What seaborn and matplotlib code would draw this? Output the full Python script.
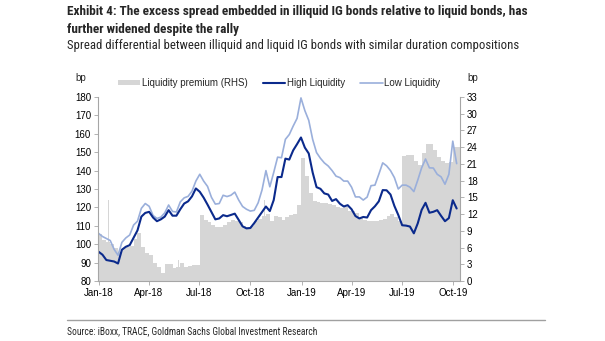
import matplotlib
matplotlib.use("Agg")
import matplotlib.pyplot as plt
import matplotlib.dates as mdates
from matplotlib import font_manager
from matplotlib.patches import Patch
from matplotlib.lines import Line2D
import numpy as np
import pandas as pd
import seaborn as sns

# ---------------- data (weekly, Mondays from 2018-01-01) ----------------
start_date = "2018-01-01"
n_weeks = 93

high_liquidity = [
    95.9, 94.3, 91.4, 91.0, 90.6, 89.5, 97.0, 98.6, 99.5, 103.5,
    107.5, 115.0, 117.0, 117.6, 114.5, 112.5, 113.5, 115.0, 118.5, 115.5,
    115.5, 119.0, 122.1, 123.3, 126.0, 130.3, 128.5, 125.3, 121.5, 117.5,
    113.5, 114.0, 115.8, 115.2, 115.9, 116.6, 113.2, 109.7, 108.6, 108.8,
    111.5, 114.5, 117.5, 120.5, 118.0, 124.0, 136.5, 136.5, 146.5, 146.0,
    151.0, 154.4, 158.0, 152.5, 149.3, 139.0, 131.0, 130.1, 127.6, 127.0,
    123.5, 124.5, 122.0, 120.5, 121.2, 119.0, 115.3, 114.0, 114.8, 114.5,
    118.5, 120.6, 123.3, 129.4, 129.3, 127.0, 120.8, 115.9, 110.3, 110.1,
    109.6, 105.9, 111.3, 118.6, 122.5, 117.1, 117.6, 118.5, 115.4, 112.5,
    114.2, 123.9, 119.4,
]

low_liquidity = [
    105.9, 104.2, 103.1, 102.0, 97.2, 94.0, 101.0, 103.4, 105.0, 110.4,
    112.5, 119.5, 122.1, 120.6, 115.6, 114.0, 114.7, 117.0, 121.3, 117.8,
    117.5, 123.0, 125.2, 126.0, 128.8, 134.3, 138.0, 134.3, 131.4, 125.5,
    121.8, 122.1, 126.6, 125.9, 126.6, 128.3, 124.0, 120.5, 119.0, 118.0,
    118.4, 122.5, 129.5, 140.0, 131.2, 139.0, 147.3, 147.0, 157.0, 159.6,
    164.2, 168.4, 179.5, 172.6, 167.3, 157.0, 149.8, 146.7, 144.2, 142.5,
    140.0, 137.0, 136.2, 134.3, 134.3, 131.0, 125.7, 125.7, 124.0, 125.6,
    131.8, 132.1, 138.0, 144.2, 142.6, 140.0, 136.2, 130.0, 132.1, 132.1,
    131.0, 128.6, 134.8, 141.5, 146.3, 141.5, 141.4, 138.0, 136.6, 132.6,
    138.0, 156.0, 143.8,
]

liquidity_premium = [
    8.5, 7.4, 7.0, 6.7, 6.0, 5.2, 6.0, 6.1, 6.2, 7.6,
    8.6, 6.1, 5.1, 4.6, 3.2, 2.6, 1.5, 3.1, 3.0, 2.3,
    2.6, 3.2, 2.5, 2.7, 2.9, 2.9, 11.8, 11.0, 10.5, 10.0,
    9.6, 9.6, 10.1, 10.5, 10.9, 10.7, 10.5, 9.9, 9.7, 9.9,
    10.7, 11.2, 11.6, 12.0, 10.8, 11.7, 11.4, 11.0, 11.4, 11.8,
    12.0, 13.6, 22.0, 18.8, 15.8, 14.4, 14.1, 13.9, 13.9, 13.8,
    13.6, 13.2, 13.1, 13.2, 12.5, 12.5, 12.2, 11.5, 10.9, 10.7,
    10.7, 10.8, 11.0, 11.2, 11.7, 12.0, 11.5, 10.7, 22.4, 22.6,
    22.6, 21.5, 20.8, 23.0, 24.6, 24.6, 23.5, 22.3, 21.6, 21.1,
    21.4, 24.0, 24.0,
]

# single-day spikes in the premium series
spike_dates = ["2018-01-19", "2018-05-25", "2018-10-26", "2018-12-31", "2019-09-27"]
spike_values = [14.5, 3.8, 14.5, 22.9, 32.8]

title_line1 = "Exhibit 4: The excess spread embedded in illiquid IG bonds relative to liquid bonds, has"
title_line2 = "further widened despite the rally"
subtitle = "Spread differential between illiquid and liquid IG bonds with similar duration compositions"
source = "Source: iBoxx, TRACE, Goldman Sachs Global Investment Research"

# ---------------- styling ----------------
sns.set_theme(style="white")
plt.rcParams["font.family"] = ["Liberation Sans", "DejaVu Sans"]

installed = {f.name for f in font_manager.fontManager.ttflist}
narrow_name = "Liberation Sans"
for cand in ["Liberation Sans Narrow", "Roboto Condensed", "Open Sans Condensed",
             "DejaVu Sans Condensed", "Noto Sans Condensed"]:
    if cand in installed:
        narrow_name = cand
        break
NARROW = [narrow_name, "DejaVu Sans"]

DARK = "#0b2a8c"
LIGHT = "#9aafdb"
GREY = "#d6d6d6"
SPINE = "#a6a6a6"

dates = pd.date_range(start_date, periods=n_weeks, freq="7D")
df = pd.DataFrame({
    "date": dates,
    "High Liquidity": high_liquidity,
    "Low Liquidity": low_liquidity,
    "premium": liquidity_premium,
})

fig = plt.figure(figsize=(6.05, 3.41), dpi=100)
W, H = 605, 341
ax = fig.add_axes([98 / W, 1 - 281 / H, (460 - 98) / W, (281 - 97) / H])
ax2 = ax.twinx()

# premium bars (RHS)
ax2.bar(df["date"], df["premium"], width=7, align="edge", color=GREY, linewidth=0)
ax2.bar(pd.to_datetime(spike_dates), spike_values, width=1.2, color=GREY, linewidth=0)
ax2.set_ylim(0, 33)
ax2.set_yticks(np.arange(0, 34, 3))

# lines (LHS)
sns.lineplot(data=df, x="date", y="Low Liquidity", ax=ax, color=LIGHT, linewidth=1.2)
sns.lineplot(data=df, x="date", y="High Liquidity", ax=ax, color=DARK, linewidth=1.5)
ax.set_zorder(ax2.get_zorder() + 1)
ax.patch.set_visible(False)

ax.set_ylim(80, 180)
ax.set_yticks(np.arange(80, 181, 10))
ax.set_xlim(pd.Timestamp("2017-12-31"), pd.Timestamp("2019-10-13"))
ax.xaxis.set_major_locator(mdates.MonthLocator(bymonth=[1, 4, 7, 10]))
ax.xaxis.set_major_formatter(mdates.DateFormatter("%b-%y"))
ax.set_xlabel("")
ax.set_ylabel("")
ax2.set_ylabel("")

for a in (ax, ax2):
    for s in a.spines.values():
        s.set_visible(False)
ax.spines["left"].set_visible(True)
ax.spines["bottom"].set_visible(True)
ax2.spines["right"].set_visible(True)
for s in (ax.spines["left"], ax.spines["bottom"], ax2.spines["right"]):
    s.set_color(SPINE)
    s.set_linewidth(0.8)

ax.tick_params(axis="both", which="major", labelsize=7, length=3, width=0.6,
               color=SPINE, pad=2, direction="out", left=True, bottom=True, labelcolor="black")
ax2.tick_params(axis="y", labelsize=7, length=3, width=0.6, color=SPINE, pad=2,
                direction="out", right=True, labelcolor="black")
ax.grid(False)
ax2.grid(False)

# axis unit labels
fig.text(81 / W, 1 - 78 / H, "bp", fontsize=7, ha="center", va="center")
fig.text(473 / W, 1 - 78 / H, "bp", fontsize=7, ha="center", va="center")

# legend
handles = [
    Patch(facecolor=GREY, edgecolor="none"),
    Line2D([0], [0], color=DARK, lw=1.5),
    Line2D([0], [0], color=LIGHT, lw=1.2),
]
labels = ["Liquidity premium (RHS)", "High Liquidity", "Low Liquidity"]
fig.legend(handles, labels, loc="center", bbox_to_anchor=(279 / W, 1 - 83 / H), ncol=3,
           frameon=False, fontsize=7, handlelength=2.3, handleheight=0.5,
           handletextpad=0.15, columnspacing=1.6, borderaxespad=0)

# titles
t1 = fig.text(67 / W, 1 - 12 / H, title_line1, fontsize=10, fontweight="bold", family=NARROW,
              ha="left", va="center")
t2 = fig.text(67 / W, 1 - 29 / H, title_line2, fontsize=10, fontweight="bold", family=NARROW,
              ha="left", va="center")
t3 = fig.text(67 / W, 1 - 45 / H, subtitle, fontsize=9.5, family=NARROW, ha="left", va="center")

# footer
fig.add_artist(Line2D([67 / W, 545 / W], [1 - 320 / H, 1 - 320 / H], color="#a0a0a0", lw=1,
                      transform=fig.transFigure))
t4 = fig.text(67 / W, 1 - 331 / H, source, fontsize=7.5, family=NARROW, ha="left", va="center")

# fit text widths to the reference's measured widths (in pixels)
fig.canvas.draw()
renderer = fig.canvas.get_renderer()
for t, target in [(t1, 466), (t3, 456), (t4, 250)]:
    w = t.get_window_extent(renderer).width
    t.set_fontsize(t.get_fontsize() * target / w)
t2.set_fontsize(t1.get_fontsize())

fig.savefig("out.png", dpi=100)
